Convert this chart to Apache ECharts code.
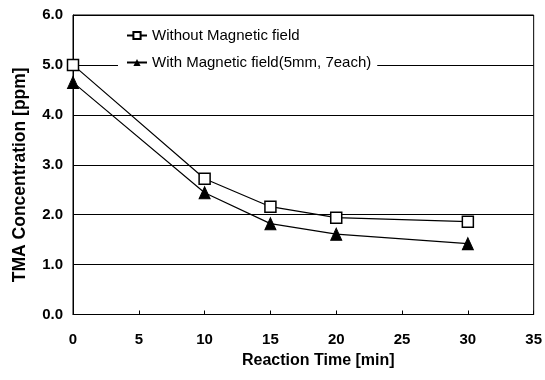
<!DOCTYPE html>
<html lang="en">
<head>
    <meta charset="UTF-8">
    <title>TMA Concentration</title>
    <script src="https://cdn.jsdelivr.net/npm/echarts@6/dist/echarts.min.js"></script>
    <style>
        body { margin: 0; background: #fff; }
        #chart { width: 545px; height: 380px; }
    </style>
</head>
<body>
    <div id="chart"></div>
    <script>
// data
const times = [0, 10, 15, 20, 30];
const withoutField = [5.0, 2.72, 2.16, 1.94, 1.86];
const withField = [4.65, 2.44, 1.82, 1.61, 1.42];
const seriesNames = ['Without Magnetic field', 'With Magnetic field(5mm, 7each)'];

const chart = echarts.init(document.getElementById('chart'));

function pairs(xs, ys) {
    return xs.map((x, i) => [x, ys[i]]);
}

const font = 'Liberation Sans, Arial, sans-serif';

chart.setOption({
    animation: false,
    backgroundColor: '#fff',
    grid: { left: 73, right: 10, top: 15, bottom: 65.5, show: true, borderColor: '#000', borderWidth: 1 },
    legend: {
        orient: 'vertical',
        left: 118,
        top: 25,
        itemGap: 12,
        itemWidth: 20,
        itemHeight: 9,
        backgroundColor: '#fff',
        padding: [3, 6, 3, 8],
        textStyle: { fontFamily: font, fontSize: 15, color: '#000' },
        data: seriesNames
    },
    xAxis: {
        type: 'value',
        min: 0, max: 35, interval: 5,
        name: 'Reaction Time [min]',
        nameLocation: 'middle',
        nameGap: 36,
        nameTextStyle: { fontFamily: font, fontSize: 16, fontWeight: 'bold', color: '#000', padding: [0, 0, 0, 30] },
        axisLine: { lineStyle: { color: '#000' } },
        axisTick: { inside: true, length: 4, lineStyle: { color: '#000' } },
        axisLabel: { fontFamily: font, fontSize: 15, fontWeight: 'bold', color: '#000', margin: 18 },
        splitLine: { show: false }
    },
    yAxis: {
        type: 'value',
        min: 0, max: 6, interval: 1,
        name: 'TMA Concentration [ppm]',
        nameLocation: 'middle',
        nameGap: 44,
        nameTextStyle: { fontFamily: font, fontSize: 17.5, fontWeight: 'bold', color: '#000', padding: [0, 20, 0, 0] },
        axisLine: { show: true, lineStyle: { color: '#000' } },
        axisTick: { show: false },
        axisLabel: { fontFamily: font, fontSize: 15, fontWeight: 'bold', color: '#000', margin: 10,
            formatter: v => v.toFixed(1) },
        splitLine: { lineStyle: { color: '#000', width: 1 } }
    },
    series: [
        {
            name: seriesNames[0],
            type: 'line',
            data: pairs(times, withoutField),
            symbol: 'rect',
            symbolSize: 11,
            itemStyle: { color: '#fff', borderColor: '#000', borderWidth: 1.5 },
            lineStyle: { color: '#000', width: 1.2 },
            z: 3
        },
        {
            name: seriesNames[1],
            type: 'line',
            data: pairs(times, withField),
            symbol: 'triangle',
            symbolSize: [11, 12],
            itemStyle: { color: '#000', borderColor: '#000' },
            lineStyle: { color: '#000', width: 1.2 },
            z: 3
        }
    ]
});
    </script>
</body>
</html>
